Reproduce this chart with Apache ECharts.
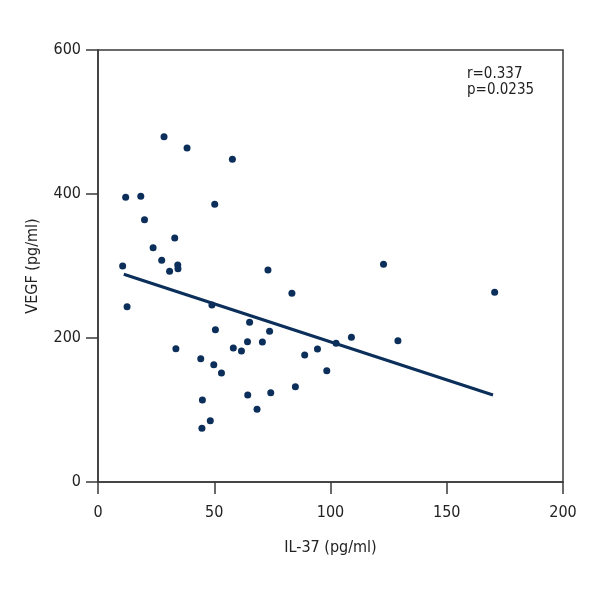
<!DOCTYPE html>
<html>
<head>
<meta charset="utf-8">
<script src="https://cdn.jsdelivr.net/npm/echarts@6/dist/echarts.min.js"></script>
<style>html,body{margin:0;padding:0;background:#fff}#c{width:600px;height:600px}</style>
</head>
<body>
<div id="c"></div>
<script>
const il37 = [28.4,38.3,57.8,11.9,18.4,50.2,20.0,33.0,23.7,27.4,10.6,34.3,34.4,30.8,73.1,12.5,49.0,
  65.2,50.5,73.8,33.5,58.2,64.3,70.7,61.7,44.2,49.8,53.1,44.9,64.4,74.3,68.4,48.3,44.7,
  83.4,122.8,170.6,109.0,102.4,129.0,94.4,88.9,98.4,84.9];
const vegf = [479.6,463.9,448.1,395.4,396.8,385.7,364.3,338.9,325.4,307.9,300.0,301.4,296.3,292.6,294.4,243.5,245.8,
  221.8,211.5,209.3,185.1,186.1,194.9,194.4,181.9,171.3,162.9,151.4,113.9,120.8,124.0,101.0,85.1,74.6,
  262.1,302.4,263.5,201.0,192.6,196.2,184.7,176.4,154.6,132.4];
const fitX = [11.1, 169.9];
const fitY = [288.5, 120.8];
const statsText = ['r=0.337', 'p=0.0235'];
const xName = 'IL-37 (pg/ml)';
const yName = 'VEGF (pg/ml)';

const FONT = "'DejaVu Sans Condensed', 'DejaVu Sans', sans-serif";
const C = '#0b2f5a';
const chart = echarts.init(document.getElementById('c'), null, {renderer: 'canvas'});
chart.setOption({
  animation: false,
  backgroundColor: '#fff',
  grid: {left: 98, right: 37, top: 50, bottom: 118, show: true, borderColor: '#3a3a3a', borderWidth: 1.5},
  graphic: [{
    type: 'text', left: 467, top: 66,
    style: {text: statsText.join('\n'), font: '15px ' + FONT, fill: '#222', lineHeight: 16}
  }],
  xAxis: {
    type: 'value', min: 0, max: 200, interval: 50,
    name: xName, nameLocation: 'middle', nameGap: 58, nameMoveOverlap: false,
    nameTextStyle: {fontFamily: FONT, fontSize: 16, color: '#222'},
    axisLine: {onZero: false, lineStyle: {color: '#3a3a3a', width: 1.5}},
    axisTick: {show: true, inside: false, length: 12, lineStyle: {color: '#3a3a3a', width: 1.5}},
    axisLabel: {fontFamily: FONT, fontSize: 16, color: '#222', margin: 23},
    splitLine: {show: false}
  },
  yAxis: {
    type: 'value', min: 0, max: 600, interval: 200,
    name: yName, nameLocation: 'middle', nameGap: 57, nameRotate: 90, nameMoveOverlap: false,
    nameTextStyle: {fontFamily: FONT, fontSize: 16, color: '#222'},
    axisLine: {onZero: false, lineStyle: {color: '#3a3a3a', width: 1.5}},
    axisTick: {show: true, inside: false, length: 12, lineStyle: {color: '#3a3a3a', width: 1.5}},
    axisLabel: {fontFamily: FONT, fontSize: 16, color: '#222', margin: 17},
    splitLine: {show: false}
  },
  series: [
    {
      type: 'line', data: fitX.map((x, i) => [x, fitY[i]]), symbol: 'none',
      lineStyle: {color: C, width: 3}, z: 2
    },
    {
      type: 'scatter', data: il37.map((x, i) => [x, vegf[i]]), symbol: 'circle', symbolSize: 7,
      itemStyle: {color: C, opacity: 1}, z: 3
    }
  ]
});
</script>
</body>
</html>
